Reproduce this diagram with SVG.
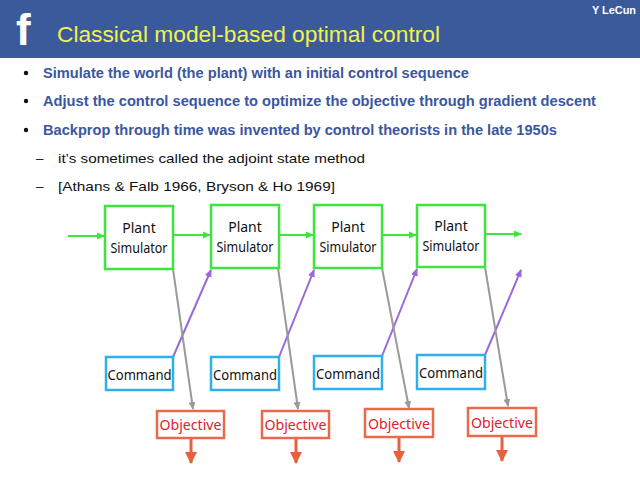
<svg xmlns="http://www.w3.org/2000/svg" width="640" height="478" viewBox="0 0 640 478">
<defs>
<style>
.bul{font-family:"Liberation Sans",Arial,sans-serif;font-weight:bold;font-size:14px;fill:#3b56a0}
.sub{font-family:"Liberation Sans",Arial,sans-serif;font-size:13.5px;fill:#111}
.plant rect{fill:#fff;stroke:#3fe43f;stroke-width:2.5}
.cmd rect{fill:#fff;stroke:#2fb0e8;stroke-width:2.5}
.obj rect{fill:#fff;stroke:#e8694c;stroke-width:2.5}
.dt{font-family:"Noto Sans","Open Sans",sans-serif;font-size:14px;fill:#111;text-anchor:middle}
.ot{font-family:"Noto Sans","Open Sans",sans-serif;font-size:14px;fill:#e0202c;text-anchor:middle}
.g{stroke:#3fe43f;stroke-width:2;fill:none}
.p{stroke:#9a68d8;stroke-width:2;fill:none}
.y{stroke:#9a9a9a;stroke-width:2;fill:none}
.r{stroke:#e8613f;stroke-width:3;fill:none}
</style>
<marker id="ag" markerWidth="8" markerHeight="8" refX="7" refY="4" orient="auto" markerUnits="userSpaceOnUse"><path d="M0,0.5 L8,4 L0,7.5 Z" fill="#3fe43f"/></marker>
<marker id="ap" markerWidth="8" markerHeight="8" refX="7" refY="4" orient="auto" markerUnits="userSpaceOnUse"><path d="M0,0.5 L8,4 L0,7.5 Z" fill="#9a68d8"/></marker>
<marker id="ay" markerWidth="8" markerHeight="8" refX="7" refY="4" orient="auto" markerUnits="userSpaceOnUse"><path d="M0,0.5 L8,4 L0,7.5 Z" fill="#9a9a9a"/></marker>
<marker id="ar" markerWidth="12" markerHeight="12" refX="11" refY="6" orient="auto" markerUnits="userSpaceOnUse"><path d="M0,0 L12,6 L0,12 Z" fill="#e8613f"/></marker>
</defs>
<rect width="640" height="478" fill="#fff"/>
<g id="header">
<rect x="0" y="0" width="640" height="58" fill="#3b5a9b"/>
<text x="16" y="45" font-family="'Liberation Sans',Arial,sans-serif" font-weight="bold" font-size="44" fill="#fff">f</text>
<text x="57" y="42" font-family="'Liberation Sans',Arial,sans-serif" font-size="22" fill="#f2f24a" textLength="383" lengthAdjust="spacingAndGlyphs">Classical model-based optimal control</text>
<text x="636" y="14" font-family="'Liberation Sans',Arial,sans-serif" font-weight="bold" font-size="11" fill="#fff" text-anchor="end" textLength="44" lengthAdjust="spacingAndGlyphs">Y LeCun</text>
</g>
<g id="bullets">
<circle cx="26" cy="73" r="2.2" fill="#111"/>
<circle cx="26" cy="101" r="2.2" fill="#111"/>
<circle cx="26" cy="130" r="2.2" fill="#111"/>
<text class="bul" x="43" y="78" textLength="426" lengthAdjust="spacingAndGlyphs">Simulate the world (the plant) with an initial control sequence</text>
<text class="bul" x="43" y="106" textLength="553" lengthAdjust="spacingAndGlyphs">Adjust the control sequence to optimize the objective through gradient descent</text>
<text class="bul" x="43" y="135" textLength="514" lengthAdjust="spacingAndGlyphs">Backprop through time was invented by control theorists in the late 1950s</text>
<text class="sub" x="36" y="163">–</text>
<text class="sub" x="36" y="191">–</text>
<text class="sub" x="58" y="163" textLength="307" lengthAdjust="spacingAndGlyphs">it’s sometimes called the adjoint state method</text>
<text class="sub" x="58" y="191" textLength="277" lengthAdjust="spacingAndGlyphs">[Athans &amp; Falb 1966, Bryson &amp; Ho 1969]</text>
</g>
<g id="connectors">
<line class="g" x1="68" y1="236" x2="104" y2="236" marker-end="url(#ag)"/>
<line class="g" x1="173" y1="235" x2="210" y2="235" marker-end="url(#ag)"/>
<line class="g" x1="279" y1="235" x2="313" y2="235" marker-end="url(#ag)"/>
<line class="g" x1="382" y1="235" x2="416" y2="235" marker-end="url(#ag)"/>
<line class="g" x1="485" y1="234" x2="521" y2="234" marker-end="url(#ag)"/>
<line class="p" x1="173" y1="357" x2="211" y2="270" marker-end="url(#ap)"/>
<line class="p" x1="279" y1="357" x2="314" y2="270" marker-end="url(#ap)"/>
<line class="p" x1="382" y1="356" x2="417" y2="269" marker-end="url(#ap)"/>
<line class="p" x1="485" y1="355" x2="521" y2="270" marker-end="url(#ap)"/>
<line class="y" x1="173" y1="269" x2="193" y2="409" marker-end="url(#ay)"/>
<line class="y" x1="278" y1="268" x2="298" y2="409" marker-end="url(#ay)"/>
<line class="y" x1="382" y1="268" x2="409" y2="408" marker-end="url(#ay)"/>
<line class="y" x1="485" y1="267" x2="508" y2="406" marker-end="url(#ay)"/>
<line class="r" x1="191" y1="439" x2="191" y2="463" marker-end="url(#ar)"/>
<line class="r" x1="296" y1="439" x2="296" y2="463" marker-end="url(#ar)"/>
<line class="r" x1="399" y1="438" x2="399" y2="462" marker-end="url(#ar)"/>
<line class="r" x1="502" y1="437" x2="502" y2="461" marker-end="url(#ar)"/>
</g>
<g id="plant1" class="plant"><rect x="105" y="206" width="68" height="63"/><text class="dt" x="139" y="233">Plant</text><text class="dt" x="139" y="253" textLength="57" lengthAdjust="spacingAndGlyphs">Simulator</text></g>
<g id="plant2" class="plant"><rect x="211" y="205" width="68" height="63"/><text class="dt" x="245" y="232">Plant</text><text class="dt" x="245" y="252" textLength="57" lengthAdjust="spacingAndGlyphs">Simulator</text></g>
<g id="plant3" class="plant"><rect x="314" y="205" width="68" height="63"/><text class="dt" x="348" y="232">Plant</text><text class="dt" x="348" y="252" textLength="57" lengthAdjust="spacingAndGlyphs">Simulator</text></g>
<g id="plant4" class="plant"><rect x="417" y="205" width="68" height="62"/><text class="dt" x="451" y="231">Plant</text><text class="dt" x="451" y="251" textLength="57" lengthAdjust="spacingAndGlyphs">Simulator</text></g>
<g id="cmd1" class="cmd"><rect x="106" y="357" width="67" height="33"/><text class="dt" x="139.5" y="380" textLength="64" lengthAdjust="spacingAndGlyphs">Command</text></g>
<g id="cmd2" class="cmd"><rect x="211" y="357" width="68" height="33"/><text class="dt" x="245" y="380" textLength="64" lengthAdjust="spacingAndGlyphs">Command</text></g>
<g id="cmd3" class="cmd"><rect x="314" y="356" width="68" height="33"/><text class="dt" x="348" y="379" textLength="64" lengthAdjust="spacingAndGlyphs">Command</text></g>
<g id="cmd4" class="cmd"><rect x="417" y="355" width="68" height="34"/><text class="dt" x="451" y="378" textLength="64" lengthAdjust="spacingAndGlyphs">Command</text></g>
<g id="obj1" class="obj"><rect x="157" y="411" width="67" height="27"/><text class="ot" x="190.5" y="430" textLength="62" lengthAdjust="spacingAndGlyphs">Objective</text></g>
<g id="obj2" class="obj"><rect x="262" y="411" width="67" height="27"/><text class="ot" x="295.5" y="430" textLength="62" lengthAdjust="spacingAndGlyphs">Objective</text></g>
<g id="obj3" class="obj"><rect x="365" y="409" width="68" height="28"/><text class="ot" x="399" y="429" textLength="62" lengthAdjust="spacingAndGlyphs">Objective</text></g>
<g id="obj4" class="obj"><rect x="468" y="408" width="68" height="28"/><text class="ot" x="502" y="428" textLength="62" lengthAdjust="spacingAndGlyphs">Objective</text></g>
</svg>
